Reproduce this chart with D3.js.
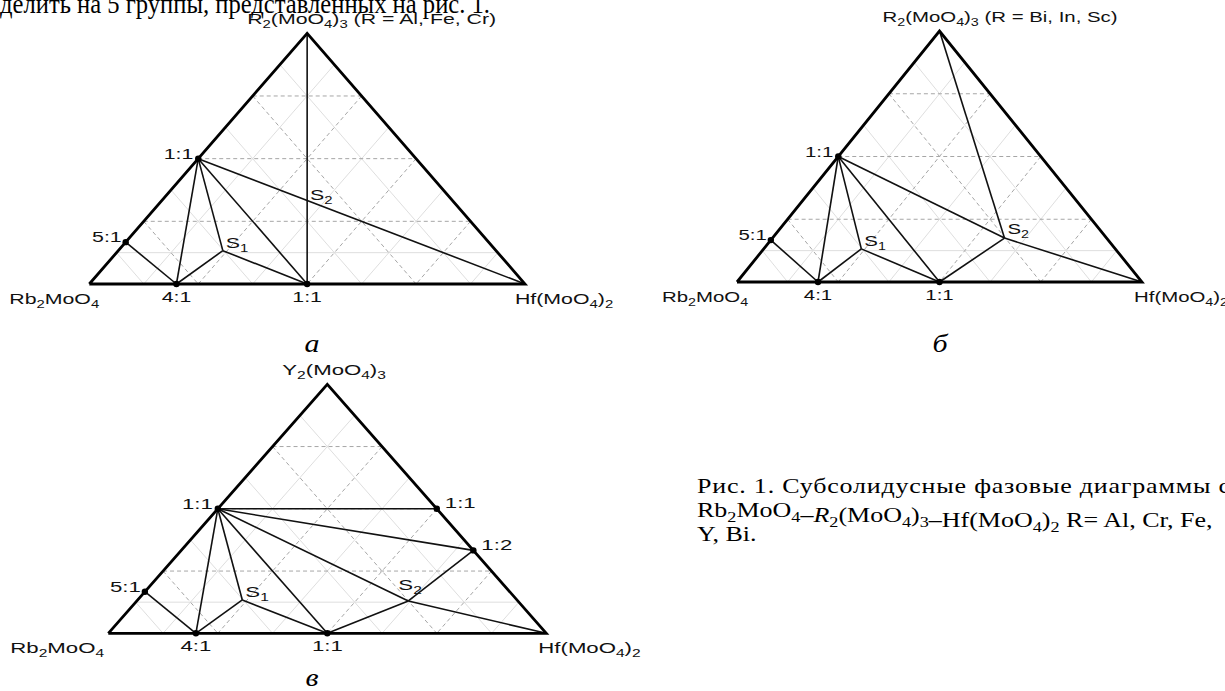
<!DOCTYPE html>
<html>
<head>
<meta charset="utf-8">
<script src="https://cdn.jsdelivr.net/npm/d3@7"></script>
<style>
  body { margin: 0; background: #fff; }
  svg { display: block; }
  .lbl { font-family: "Liberation Sans", Arial, sans-serif; font-size: 15px; fill: #111; }
  .serif { font-family: "Liberation Serif", "Times New Roman", serif; fill: #000; }
</style>
</head>
<body>
<svg id="fig" width="1225" height="691"></svg>
<script>
// compositions are mole fractions [Rb2MoO4, Hf(MoO4)2, R2(MoO4)3]
// "_n" in a label means subscript n
var cornerLabels = ["Rb_2MoO_4", "Hf(MoO_4)_2"];
var apexLabels = ["R_2(MoO_4)_3 (R = Al, Fe, Cr)", "R_2(MoO_4)_3 (R = Bi, In, Sc)", "Y_2(MoO_4)_3"];
var panelLetters = ["а", "б", "в"];

// phases common to all three systems
var commonPhases = [
  {id: "A", label: "", comp: [1, 0, 0], dot: false},
  {id: "B", label: "", comp: [0, 1, 0], dot: false},
  {id: "C", label: "", comp: [0, 0, 1], dot: false},
  {id: "L11", label: "1:1", comp: [0.5, 0, 0.5], dot: true},
  {id: "L51", label: "5:1", comp: [0.833, 0, 0.167], dot: true},
  {id: "B41", label: "4:1", comp: [0.8, 0.2, 0], dot: true},
  {id: "B11", label: "1:1", comp: [0.5, 0.5, 0], dot: true}
];

// ternary phases of each system
var phasesA = [
  {id: "S1", label: "S_1", comp: [0.627, 0.24, 0.133], dot: false},
  {id: "S2", label: "S_2", comp: [0.333, 0.333, 0.333], dot: false}
];
var phasesB = [
  {id: "S1", label: "S_1", comp: [0.627, 0.241, 0.132], dot: false},
  {id: "S2", label: "S_2", comp: [0.252, 0.573, 0.175], dot: false}
];
var phasesC = [
  {id: "S1", label: "S_1", comp: [0.627, 0.239, 0.134], dot: false},
  {id: "S2", label: "S_2", comp: [0.25, 0.62, 0.13], dot: false},
  {id: "R11", label: "1:1", comp: [0, 0.5, 0.5], dot: true},
  {id: "R12", label: "1:2", comp: [0, 0.667, 0.333], dot: true}
];

// tie lines (subsolidus joins)
var tiesA = [["C", "B11"], ["L11", "B"], ["L11", "B41"], ["L11", "S1"], ["L11", "B11"],
  ["L51", "B41"], ["B41", "S1"], ["S1", "B11"]];
var tiesB = [["C", "S2"], ["L11", "S2"], ["S2", "B"], ["L11", "B41"], ["L11", "S1"], ["L11", "B11"],
  ["L51", "B41"], ["B41", "S1"], ["S1", "B11"], ["B11", "S2"]];
var tiesC = [["L11", "R11"], ["L11", "R12"], ["L11", "S2"], ["S2", "B"], ["L11", "B41"], ["L11", "S1"],
  ["L11", "B11"], ["L51", "B41"], ["B41", "S1"], ["S1", "B11"], ["B11", "S2"], ["S2", "R12"]];

// composition grid
var gridMajor = [0.25, 0.5, 0.75];
var gridMinor = [0.125, 0.375, 0.625, 0.875];
var gridMinorHoriz = [0.125];

var captionLines = [
  "Рис. 1. Субсолидусные фазовые диаграммы с",
  "Rb_2MoO_4–R_2(MoO_4)_3–Hf(MoO_4)_2 R= Al, Cr, Fe,",
  "Y, Bi."
];
var headerLine = "делить на 5 группы, представленных на рис. 1.";

var svg = d3.select("#fig");

// write text with "_n" subscripts into a text selection
function richText(sel, str, sub) {
  var parts = str.split(/_(\d)/);
  var down = false;
  parts.forEach(function(p, i) {
    if (p === "") return;
    var isSub = i % 2 === 1;
    var t = sel.append("tspan").text(p);
    if (isSub) {
      t.attr("dy", sub).style("font-size", "70%");
      down = true;
    } else if (down) {
      t.attr("dy", -sub);
      down = false;
    }
  });
}

function label(g, x, y, str, anchor, sx) {
  var t = g.append("text")
    .attr("class", "lbl")
    .attr("text-anchor", anchor)
    .attr("transform", "translate(" + x + "," + y + ") scale(" + sx + ",1)");
  richText(t, str, 4);
  return t;
}

function drawPanel(cfg) {
  var x = d3.scaleLinear().domain([0, 1]).range([cfg.left, cfg.right]);
  var y = d3.scaleLinear().domain([0, 1]).range([cfg.base, cfg.top]);
  var pos = function(c) { return [x(c[1] + c[2] / 2), y(c[2])]; };
  var line = d3.line().x(function(d) { return pos(d)[0]; }).y(function(d) { return pos(d)[1]; });

  var g = svg.append("g");

  function gridLines(levels, horiz, diag) {
    var segs = [];
    levels.forEach(function(t) {
      if (horiz) segs.push([[1 - t, 0, t], [0, 1 - t, t]]);
      if (diag) {
        segs.push([[t, 0, 1 - t], [t, 1 - t, 0]]);
        segs.push([[0, t, 1 - t], [1 - t, t, 0]]);
      }
    });
    return segs;
  }

  g.selectAll(".gminor").data(gridLines(gridMinor, false, true).concat(gridLines(gridMinorHoriz, true, false)))
    .enter().append("path")
    .attr("d", line)
    .attr("fill", "none")
    .attr("stroke", "#dadada")
    .attr("stroke-width", 0.9);

  g.selectAll(".gmajor").data(gridLines(gridMajor, true, true))
    .enter().append("path")
    .attr("d", line)
    .attr("fill", "none")
    .attr("stroke", "#a6a6a6")
    .attr("stroke-width", 1)
    .attr("stroke-dasharray", "4,3");

  var phases = commonPhases.concat(cfg.phases);
  var byId = {};
  phases.forEach(function(p) { byId[p.id] = p; });

  g.selectAll(".tie").data(cfg.ties)
    .enter().append("path")
    .attr("d", function(d) { return line([byId[d[0]].comp, byId[d[1]].comp]); })
    .attr("fill", "none")
    .attr("stroke", "#111")
    .attr("stroke-width", 1.6);

  // triangle border
  g.append("path")
    .attr("d", line([[1, 0, 0], [0, 1, 0], [0, 0, 1], [1, 0, 0]]))
    .attr("fill", "none")
    .attr("stroke", "#000")
    .attr("stroke-width", 2.8);

  g.selectAll(".dot").data(phases.filter(function(p) { return p.dot; }))
    .enter().append("circle")
    .attr("cx", function(d) { return pos(d.comp)[0]; })
    .attr("cy", function(d) { return pos(d.comp)[1]; })
    .attr("r", 3.2)
    .attr("fill", "#000");

  // point labels
  phases.forEach(function(p) {
    if (!p.label) return;
    var o = cfg.offsets[p.id];
    var xy = pos(p.comp);
    label(g, xy[0] + o[0], xy[1] + o[1], p.label, o[2], cfg.sx);
  });

  // vertex labels
  var a = pos([1, 0, 0]), b = pos([0, 1, 0]), c = pos([0, 0, 1]);
  label(g, a[0] + cfg.cornerDx[0], a[1] + 20, cornerLabels[0], "start", cfg.sx);
  label(g, b[0] + cfg.cornerDx[1], b[1] + 20, cornerLabels[1], "start", cfg.sx);
  label(g, c[0] + cfg.apexDx, c[1] - 9, cfg.apex, "start", cfg.sx);
}

var baseOffsets = {
  L11: [-5, 0, "end"], L51: [-4, 0, "end"],
  B41: [0, 18, "middle"], B11: [0, 18, "middle"],
  S1: [3, -3, "start"], S2: [3, -1, "start"],
  R11: [8, -1, "start"], R12: [8, 0, "start"]
};

drawPanel({
  left: 89.3, right: 525, base: 284, top: 33.3, sx: 1.42,
  phases: phasesA, ties: tiesA, apex: apexLabels[0], apexDx: -60, cornerDx: [-80, -10],
  offsets: baseOffsets
});

drawPanel({
  left: 737, right: 1142, base: 282, top: 31, sx: 1.36,
  phases: phasesB, ties: tiesB, apex: apexLabels[1], apexDx: -57, cornerDx: [-75, -8],
  offsets: Object.assign({}, baseOffsets, {S2: [3, -4, "start"]})
});

drawPanel({
  left: 108.3, right: 546.3, base: 633.3, top: 384.3, sx: 1.48,
  phases: phasesC, ties: tiesC, apex: apexLabels[2], apexDx: -45, cornerDx: [-98, -8],
  offsets: Object.assign({}, baseOffsets, {S2: [-10, -11, "start"]})
});

// panel letters
var letterPos = [[312, 352], [940, 352], [312, 686]];
panelLetters.forEach(function(l, i) {
  svg.append("text")
    .attr("class", "serif")
    .attr("text-anchor", "middle")
    .attr("transform", "translate(" + letterPos[i][0] + "," + letterPos[i][1] + ") scale(1.2,1)")
    .style("font-size", "25px")
    .style("font-style", "italic")
    .text(l);
});

// running text above the figure (cut by the page edge)
svg.append("text")
  .attr("class", "serif")
  .attr("x", 0).attr("y", 13)
  .style("font-size", "27px")
  .attr("textLength", 490)
  .attr("lengthAdjust", "spacingAndGlyphs")
  .text(headerLine);

// caption
var cap = [[697, 493, 533], [697, 517, 0], [697, 541, 0]];
captionLines.forEach(function(s, i) {
  var t = svg.append("text")
    .attr("class", "serif")
    .style("font-size", "20px")
    .attr("transform", "translate(" + cap[i][0] + "," + cap[i][1] + ") scale(1.3,1)");
  if (cap[i][2]) {
    t.attr("textLength", cap[i][2] / 1.3).attr("lengthAdjust", "spacing");
  }
  if (i === 1) {
    // the middle component symbol is italic R
    var parts = s.split("–");
    parts.forEach(function(p, k) {
      if (k > 0) t.append("tspan").text("–");
      if (k === 1) {
        t.append("tspan").style("font-style", "italic").text("R");
        richText(t, p.slice(1), 5);
      } else {
        richText(t, p, 5);
      }
    });
  } else {
    t.text(s);
  }
});
</script>
</body>
</html>
